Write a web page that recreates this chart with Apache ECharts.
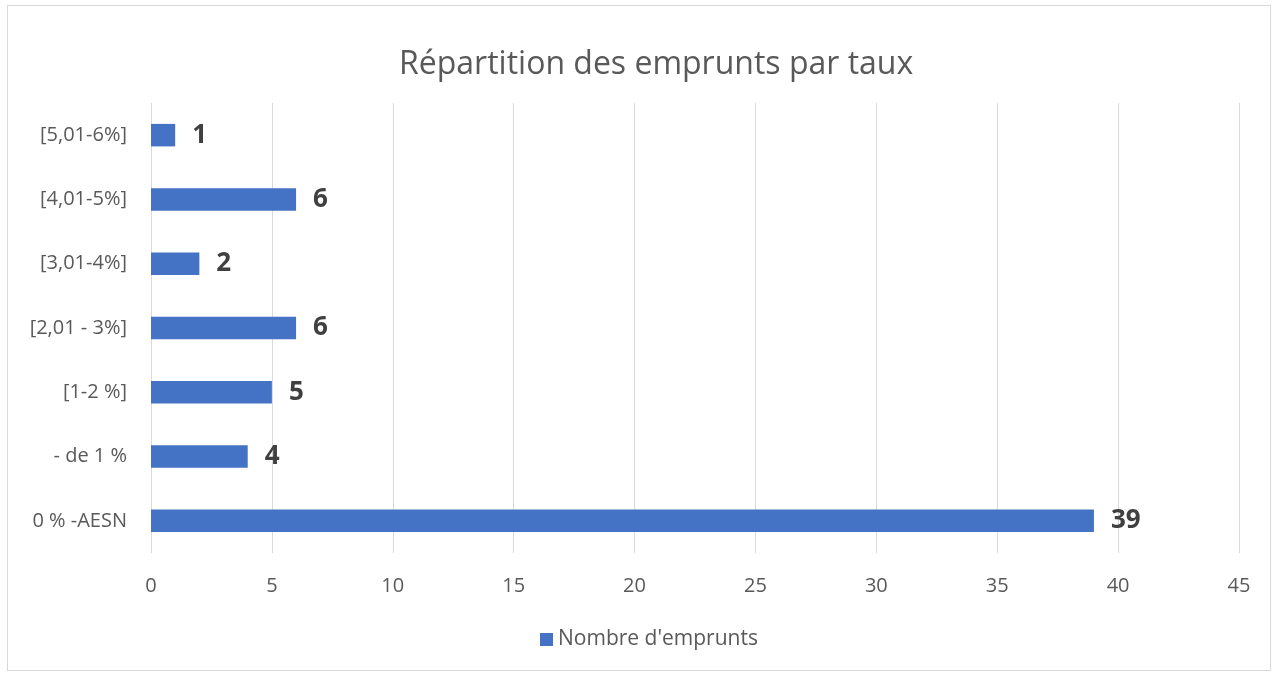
<!DOCTYPE html>
<html>
<head>
<meta charset="utf-8">
<script src="https://cdn.jsdelivr.net/npm/echarts@6/dist/echarts.min.js"></script>
<style>
html,body{margin:0;padding:0;background:#fff;}
#frame{position:absolute;left:7px;top:5px;width:1264px;height:666px;border:1px solid #d9d9d9;box-sizing:border-box;}
#chart{position:absolute;left:0;top:0;width:1278px;height:677px;}
</style>
</head>
<body>
<div id="frame"></div>
<div id="chart"></div>
<script>
const titleText = "Répartition des emprunts par taux";
const seriesName = "Nombre d'emprunts";
const categories = ["0 % -AESN", "- de 1 %", "[1-2 %]", "[2,01 - 3%]", "[3,01-4%]", "[4,01-5%]", "[5,01-6%]"];
const values = [39, 4, 5, 6, 2, 6, 1];
const xMin = 0, xMax = 45, xStep = 5;

const font = "'Open Sans', 'Liberation Sans', sans-serif";
const chart = echarts.init(document.getElementById('chart'), null, {renderer: 'canvas'});
chart.setOption({
  animation: false,
  backgroundColor: 'transparent',
  title: {
    text: titleText, left: 394, top: 44,
    textStyle: {fontFamily: font, fontSize: 32, fontWeight: 'normal', color: '#595959'}
  },
  legend: {
    bottom: 22, left: 535, itemWidth: 13, itemHeight: 13, itemGap: 6,
    icon: 'rect',
    textStyle: {fontFamily: font, fontSize: 21, color: '#595959'},
    data: [seriesName]
  },
  grid: {left: 151, right: 39, top: 103, bottom: 124, containLabel: false},
  xAxis: {
    type: 'value', min: xMin, max: xMax, interval: xStep,
    axisLine: {show: false}, axisTick: {show: false},
    axisLabel: {fontFamily: font, fontSize: 20, color: '#595959', margin: 23},
    splitLine: {lineStyle: {color: '#d9d9d9', width: 1}}
  },
  yAxis: {
    type: 'category', data: categories,
    axisLine: {show: false}, axisTick: {show: false},
    axisLabel: {fontFamily: font, fontSize: 20, color: '#595959', margin: 24},
    splitLine: {show: false}
  },
  series: [{
    name: seriesName, type: 'bar', data: values,
    barWidth: '35%',
    itemStyle: {color: '#4472c4'},
    label: {show: true, position: 'right', distance: 17, fontFamily: font, fontSize: 26, fontWeight: 'bold', color: '#404040'}
  }]
});
</script>
</body>
</html>
